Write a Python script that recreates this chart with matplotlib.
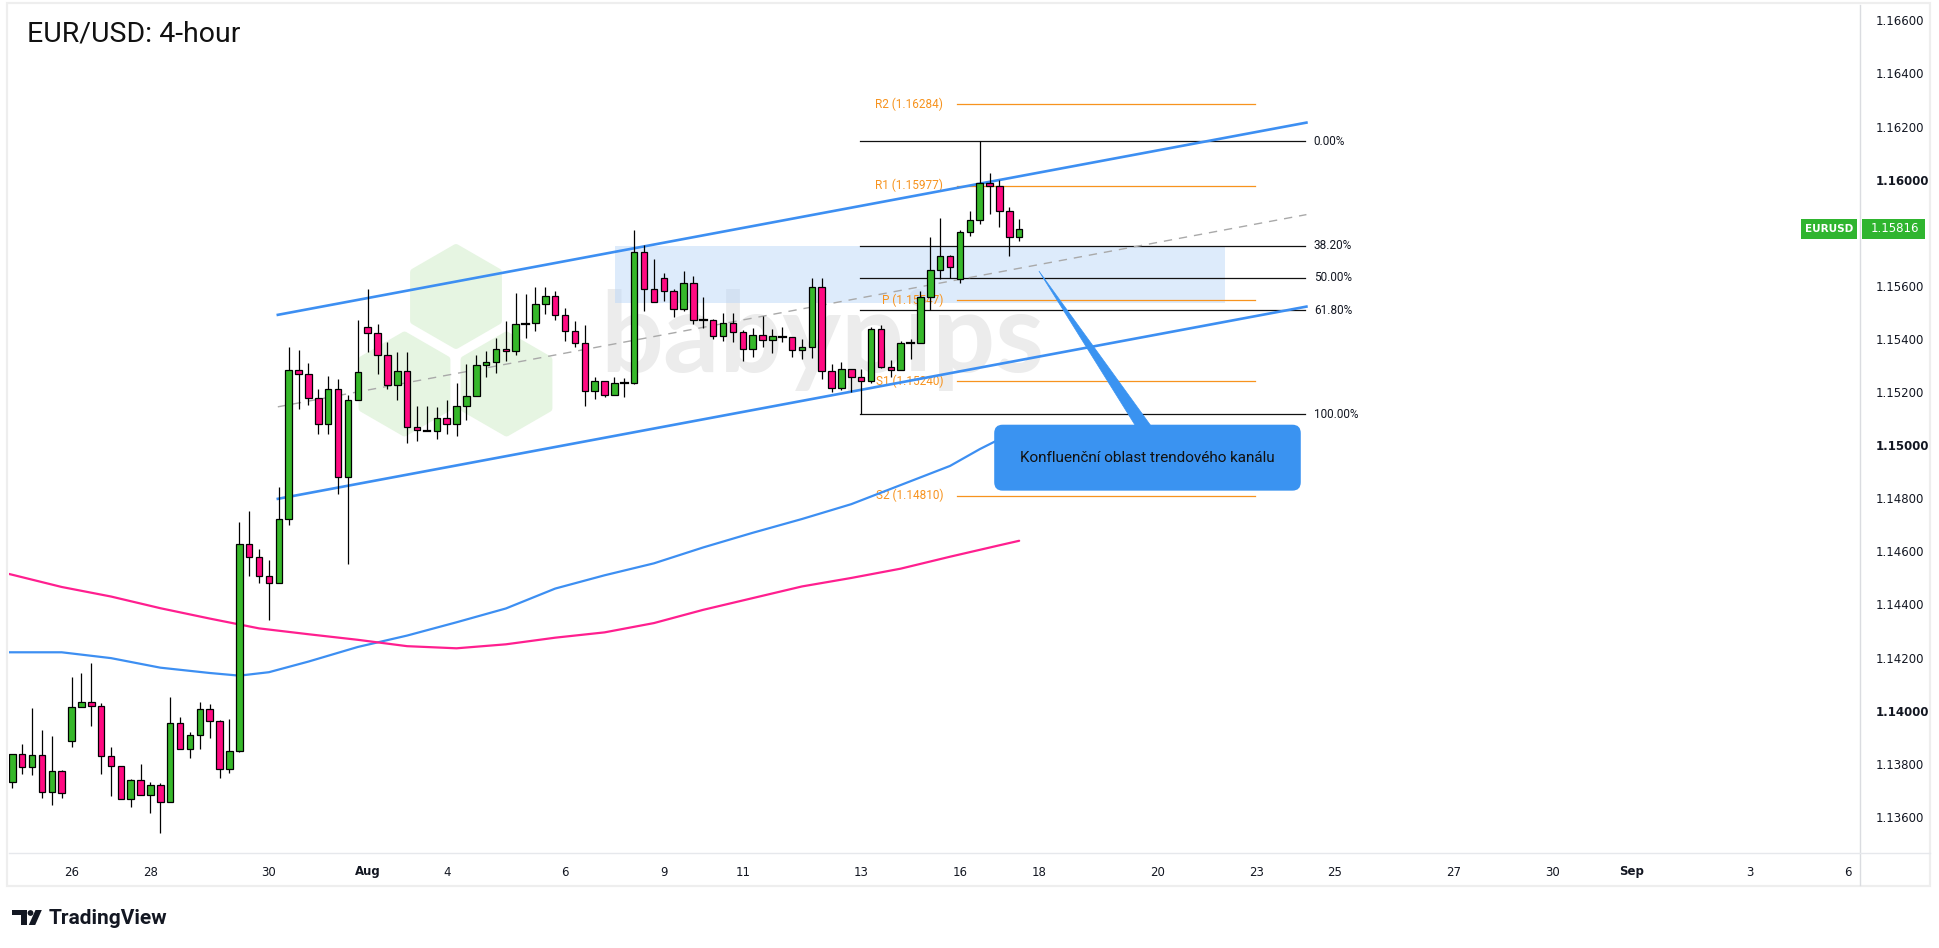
import numpy as np
import matplotlib
matplotlib.use("Agg")
import matplotlib.pyplot as plt
from matplotlib.patches import Rectangle, Polygon, RegularPolygon
from matplotlib.transforms import Affine2D, blended_transform_factory

# ---------------- data ----------------
opens = [1.13731, 1.13836, 1.13787, 1.13832, 1.13693, 1.13772, 1.13885, 1.14013, 1.14032, 1.14017,
         1.13829, 1.13791, 1.13667, 1.13738, 1.13682, 1.13719, 1.13655, 1.13953, 1.13857, 1.13908,
         1.14006, 1.13960, 1.13780, 1.13847, 1.14627, 1.14578, 1.14506, 1.14480, 1.14721, 1.15283,
         1.15267, 1.15177, 1.15079, 1.15212, 1.14879, 1.15170, 1.15444, 1.15421, 1.15339, 1.15226,
         1.15279, 1.15068, 1.15055, 1.15053, 1.15102, 1.15079, 1.15147, 1.15185, 1.15301, 1.15313,
         1.15362, 1.15354, 1.15458, 1.15459, 1.15531, 1.15561, 1.15490, 1.15429, 1.15384, 1.15203,
         1.15241, 1.15188, 1.15233, 1.15233, 1.15727, 1.15588, 1.15629, 1.15580, 1.15512, 1.15610,
         1.15471, 1.15471, 1.15411, 1.15459, 1.15426, 1.15362, 1.15414, 1.15395, 1.15409, 1.15407,
         1.15358, 1.15369, 1.15595, 1.15279, 1.15215, 1.15286, 1.15256, 1.15241, 1.15437, 1.15293,
         1.15282, 1.15386, 1.15386, 1.15557, 1.15659, 1.15711, 1.15625, 1.15802, 1.15847, 1.15986,
         1.15975, 1.15881, 1.15783]
highs = [1.13836, 1.13875, 1.14009, 1.13928, 1.13905, 1.13777, 1.14127, 1.14142, 1.14180, 1.14028,
         1.13862, 1.13791, 1.13743, 1.13800, 1.13731, 1.13727, 1.14051, 1.13975, 1.13919, 1.14032,
         1.14024, 1.13964, 1.13968, 1.14710, 1.14752, 1.14608, 1.14568, 1.14843, 1.15370, 1.15359,
         1.15310, 1.15212, 1.15261, 1.15249, 1.15189, 1.15472, 1.15588, 1.15457, 1.15388, 1.15350,
         1.15350, 1.15147, 1.15147, 1.15143, 1.15169, 1.15233, 1.15305, 1.15339, 1.15354, 1.15403,
         1.15467, 1.15572, 1.15569, 1.15595, 1.15595, 1.15580, 1.15516, 1.15467, 1.15452, 1.15256,
         1.15241, 1.15256, 1.15252, 1.15811, 1.15753, 1.15700, 1.15648, 1.15588, 1.15655, 1.15636,
         1.15557, 1.15475, 1.15497, 1.15497, 1.15433, 1.15441, 1.15486, 1.15437, 1.15444, 1.15407,
         1.15399, 1.15629, 1.15629, 1.15305, 1.15313, 1.15286, 1.15286, 1.15444, 1.15452, 1.15320,
         1.15391, 1.15399, 1.15580, 1.15783, 1.15855, 1.15715, 1.15809, 1.15881, 1.16145, 1.16024,
         1.15998, 1.15896, 1.15851]
lows = [1.13710, 1.13763, 1.13759, 1.13673, 1.13646, 1.13673, 1.13865, 1.14013, 1.13944, 1.13763,
        1.13680, 1.13667, 1.13639, 1.13682, 1.13616, 1.13540, 1.13655, 1.13854, 1.13820, 1.13854,
        1.13899, 1.13746, 1.13765, 1.13843, 1.14509, 1.14480, 1.14343, 1.14480, 1.14698, 1.15138,
        1.15153, 1.15044, 1.15044, 1.14815, 1.14554, 1.15170, 1.15352, 1.15270, 1.15211, 1.15169,
        1.15007, 1.15015, 1.15055, 1.15023, 1.15041, 1.15034, 1.15094, 1.15185, 1.15256, 1.15271,
        1.15316, 1.15339, 1.15403, 1.15429, 1.15493, 1.15471, 1.15392, 1.15369, 1.15147, 1.15173,
        1.15181, 1.15188, 1.15181, 1.15230, 1.15505, 1.15539, 1.15542, 1.15482, 1.15505, 1.15456,
        1.15441, 1.15399, 1.15392, 1.15388, 1.15316, 1.15331, 1.15369, 1.15346, 1.15388, 1.15331,
        1.15324, 1.15328, 1.15249, 1.15200, 1.15207, 1.15199, 1.15116, 1.15233, 1.15290, 1.15256,
        1.15282, 1.15324, 1.15384, 1.15508, 1.15625, 1.15629, 1.15610, 1.15787, 1.15832, 1.15870,
        1.15821, 1.15711, 1.15768]
closes = [1.13836, 1.13787, 1.13832, 1.13693, 1.13772, 1.13689, 1.14013, 1.14032, 1.14017, 1.13829,
          1.13791, 1.13667, 1.13738, 1.13682, 1.13719, 1.13655, 1.13953, 1.13857, 1.13908, 1.14006,
          1.13960, 1.13780, 1.13847, 1.14627, 1.14578, 1.14506, 1.14480, 1.14721, 1.15283, 1.15267,
          1.15177, 1.15079, 1.15212, 1.14879, 1.15170, 1.15275, 1.15421, 1.15339, 1.15226, 1.15279,
          1.15068, 1.15056, 1.15057, 1.15102, 1.15079, 1.15147, 1.15185, 1.15301, 1.15313, 1.15362,
          1.15354, 1.15456, 1.15458, 1.15531, 1.15561, 1.15490, 1.15429, 1.15384, 1.15203, 1.15241,
          1.15188, 1.15233, 1.15233, 1.15727, 1.15588, 1.15539, 1.15580, 1.15512, 1.15610, 1.15471,
          1.15471, 1.15411, 1.15459, 1.15426, 1.15362, 1.15414, 1.15395, 1.15411, 1.15409, 1.15358,
          1.15369, 1.15595, 1.15279, 1.15215, 1.15286, 1.15256, 1.15241, 1.15437, 1.15293, 1.15282,
          1.15384, 1.15386, 1.15557, 1.15659, 1.15711, 1.15670, 1.15802, 1.15847, 1.15986, 1.15975,
          1.15881, 1.15783, 1.15816]

# moving averages (bar index, value)
ma_fast_bars = [-1, 0, 5, 10, 15, 20, 23, 26, 30, 35, 40, 45, 50, 55, 60, 65, 70, 75, 80, 85, 90, 95, 98, 102]
ma_fast_vals = [1.14220, 1.14220, 1.14220, 1.14198, 1.14162, 1.14142, 1.14132, 1.14145, 1.14185, 1.14240,
                1.14283, 1.14333, 1.14385, 1.14460, 1.14510, 1.14555, 1.14615, 1.14670, 1.14722, 1.14778,
                1.14850, 1.14922, 1.14985, 1.15060]
ma_slow_bars = [-1, 0, 5, 10, 15, 20, 25, 30, 35, 40, 45, 50, 55, 60, 65, 70, 75, 80, 85, 90, 95, 100, 102]
ma_slow_vals = [1.14521, 1.14512, 1.14466, 1.14430, 1.14386, 1.14347, 1.14310, 1.14288, 1.14267, 1.14243,
                1.14235, 1.14250, 1.14275, 1.14295, 1.14330, 1.14380, 1.14424, 1.14468, 1.14500, 1.14535,
                1.14580, 1.14623, 1.14640]

# trend channel
channel_bars = [26.9, 131.1]
channel_upper = [1.15491, 1.16215]
channel_lower = [1.14798, 1.15522]

# fibonacci retracement
fib_high, fib_low = 1.16145, 1.15116
fib_start, fib_end = 85.9, 131.0
fib_levels = [0.0, 0.382, 0.5, 0.618, 1.0]
fib_labels = ["0.00%", "38.20%", "50.00%", "61.80%", "100.00%"]

# pivot points
pivot_names = ["R2", "R1", "P", "S1", "S2"]
pivot_values = [1.16284, 1.15977, 1.15547, 1.15240, 1.14810]
pivot_start, pivot_end = 95.7, 125.9

# highlighted zone
zone_bars = [61.1, 122.9]
zone_prices = [1.15537, 1.15752]

# callout
callout_text = "Konfluenční oblast trendového kanálu"
callout_pos = (115.0, 1.14953)
callout_tip = (104.0, 1.15656)
callout_base = [(114.0, 1.15060), (115.6, 1.15060)]

# axes
tick_bars = [6, 14, 26, 36, 44, 56, 66, 74, 86, 96, 104, 116, 126, 134, 146, 156, 164, 176, 186]
tick_labels = ["26", "28", "30", "Aug", "4", "6", "9", "11", "13", "16", "18", "20", "23", "25",
               "27", "30", "Sep", "3", "6"]
price_ticks = [1.136, 1.138, 1.140, 1.142, 1.144, 1.146, 1.148, 1.150, 1.152, 1.154,
               1.156, 1.158, 1.160, 1.162, 1.164, 1.166]
x_range = (-0.334, 187.18)
y_range = (1.13464, 1.16658)

# ---------------- styles ----------------
GREEN = "#36b82a"
PINK = "#ff0a82"
BLUE = "#3d8ff2"
MA_PINK = "#ff1f8f"
ORANGE = "#f7931e"
TXT = "#131722"

W, H = 1940, 948
fig = plt.figure(figsize=(W / 100, H / 100), dpi=100)
fig.patch.set_facecolor("white")
pxT = Affine2D().scale(1.0 / W, -1.0 / H).translate(0, 1) + fig.transFigure

ax_left, ax_right, ax_top, ax_bottom = 9, 1860, 5, 853
ax = fig.add_axes([ax_left / W, 1 - ax_bottom / H, (ax_right - ax_left) / W, (ax_bottom - ax_top) / H])
ax.set_xlim(*x_range)
ax.set_ylim(*y_range)
ax.set_facecolor("white")
for s in ax.spines.values():
    s.set_visible(False)

# ---- watermark (babypips) ----
hex_centers = [(456, 296.5), (404.5, 384), (506.5, 384)]
for cx, cy in hex_centers:
    ax.add_patch(RegularPolygon((cx, cy), 6, radius=49, orientation=0, transform=pxT,
                                facecolor="#e6f5e2", edgecolor="#e6f5e2", lw=5, joinstyle="round",
                                zorder=0.5, clip_on=False))
ax.text(600, 372, "babypips", transform=pxT, fontsize=80, fontfamily="Lato", fontweight="bold",
        color="#ececec", ha="left", va="baseline", zorder=0.6)

# ---- zone ----
ax.add_patch(Rectangle((zone_bars[0], zone_prices[0]), zone_bars[1] - zone_bars[0],
                       zone_prices[1] - zone_prices[0], facecolor="#bcd8f8", alpha=0.5,
                       edgecolor="none", zorder=0.8))

# ---- moving averages ----
ax.plot(ma_fast_bars, ma_fast_vals, color=BLUE, lw=1.6, zorder=2, solid_capstyle="round")
ax.plot(ma_slow_bars, ma_slow_vals, color=MA_PINK, lw=1.6, zorder=2, solid_capstyle="round")

# ---- pivots ----
for name, val in zip(pivot_names, pivot_values):
    ax.plot([pivot_start, pivot_end], [val, val], color=ORANGE, lw=0.9, zorder=1.5)
    ax.text(pivot_start - 1.4, val, f"{name} ({val:.5f})", color=ORANGE, fontsize=8.5,
            fontfamily="Roboto", ha="right", va="center", zorder=1.6)

# ---- fibonacci ----
for lv, lab in zip(fib_levels, fib_labels):
    p = fib_high - lv * (fib_high - fib_low)
    ax.plot([fib_start, fib_end], [p, p], color="#111111", lw=0.9, zorder=1.7)
    ax.text(fib_end + 0.85, p, lab, color=TXT, fontsize=8.5, fontfamily="Roboto",
            ha="left", va="center", zorder=1.7)

# ---- channel ----
ax.plot(channel_bars, channel_upper, color=BLUE, lw=1.9, zorder=3)
ax.plot(channel_bars, channel_lower, color=BLUE, lw=1.9, zorder=3)
mid = [(u + l) / 2 for u, l in zip(channel_upper, channel_lower)]
ax.plot(channel_bars, mid, color="#a9a9a9", lw=1.0, ls=(0, (6, 5)), zorder=2.5)

# ---- candles ----
bw = 0.66
for i, (o, h, l, c) in enumerate(zip(opens, highs, lows, closes)):
    ax.plot([i, i], [l, h], color="black", lw=0.9, zorder=4, solid_capstyle="butt")
    lo, hi = min(o, c), max(o, c)
    if hi - lo < 0.00003:
        ax.plot([i - bw / 2, i + bw / 2], [o, o], color="black", lw=1.6, zorder=4.2)
    else:
        col = GREEN if c > o else PINK
        ax.add_patch(Rectangle((i - bw / 2, lo), bw, hi - lo, facecolor=col, edgecolor="black",
                               lw=0.9, zorder=4.1))

# ---- callout ----
ax.add_patch(Polygon([callout_tip, callout_base[0], callout_base[1]], closed=True,
                     facecolor="#3a93f1", edgecolor="#3a93f1", lw=0.5, zorder=5))
ax.text(callout_pos[0], callout_pos[1], callout_text, fontsize=11, fontfamily="Roboto",
        color="#111111", ha="center", va="center", zorder=5.5,
        bbox=dict(boxstyle="round,pad=1.7,rounding_size=0.55", facecolor="#3a93f1",
                  edgecolor="none"))

# ---- axes ticks ----
ax.yaxis.tick_right()
ax.set_yticks(price_ticks)
ax.set_yticklabels([f"{v:.5f}" for v in price_ticks])
ax.tick_params(axis="y", length=0, pad=11, labelsize=8.5, labelcolor=TXT)
for lbl, v in zip(ax.get_yticklabels(), price_ticks):
    if abs(round(v * 100) - v * 100) < 1e-6:
        lbl.set_fontweight("bold")
ax.set_xticks(tick_bars)
ax.set_xticklabels(tick_labels)
ax.tick_params(axis="x", length=0, pad=9, labelsize=8.5, labelcolor=TXT)
for lbl, t in zip(ax.get_xticklabels(), tick_labels):
    if t.isalpha():
        lbl.set_fontweight("bold")

# ---- last price labels ----
last = closes[-1]
bt = blended_transform_factory(ax.transAxes, ax.transData)
hpx = 20 / (ax_bottom - ax_top) * (y_range[1] - y_range[0])
axw = ax_right - ax_left
ax.add_patch(Rectangle(((1801 - ax_left) / axw, last - hpx / 2), 56 / axw, hpx, transform=bt,
                       facecolor="#2fb52f", edgecolor="none", clip_on=False, zorder=6))
ax.add_patch(Rectangle(((1862 - ax_left) / axw, last - hpx / 2), 63 / axw, hpx, transform=bt,
                       facecolor="#2fb52f", edgecolor="none", clip_on=False, zorder=6))
ax.text((1829 - ax_left) / axw, last, "EURUSD", transform=bt, color="white", fontsize=7.5,
        fontweight="bold", ha="center", va="center", zorder=7, clip_on=False)
ax.text((1871 - ax_left) / axw, last, f"{last:.5f}", transform=bt, color="white", fontsize=8.5,
        ha="left", va="center", zorder=7, clip_on=False)

# ---- frame lines ----
fig.add_artist(plt.Line2D([ax_right, ax_right], [ax_top, 885], transform=pxT, color="#dadce0", lw=1))
fig.add_artist(plt.Line2D([ax_left, 1930], [ax_bottom, ax_bottom], transform=pxT, color="#e6e8ec", lw=1))
fig.add_artist(Rectangle((7, 3), 1923, 883, transform=pxT, facecolor="none", edgecolor="#eeeeee", lw=1.6))

# ---- title ----
fig.text(27 / W, 1 - 34 / H, "EUR/USD: 4-hour", fontsize=20.5, fontfamily="Roboto", color="#111111",
         ha="left", va="center")

# ---- TradingView logo ----
logo_col = TXT
fig.add_artist(Polygon([(12.3, 910), (26.7, 910), (26.7, 925), (20.8, 925), (20.8, 915.5), (12.3, 915.5)],
                       closed=True, transform=pxT, facecolor=logo_col, edgecolor="none"))
fig.add_artist(plt.Circle((30.5, 913), 2.9, transform=pxT, facecolor=logo_col, edgecolor="none"))
fig.add_artist(Polygon([(35.5, 910), (41.8, 910), (35.2, 925), (28.8, 925)], closed=True, transform=pxT,
                       facecolor=logo_col, edgecolor="none"))
fig.text(49 / W, 1 - 918 / H, "TradingView", fontsize=15, fontfamily="Roboto", fontweight="bold",
         color=logo_col, ha="left", va="center")

fig.savefig("out.png", dpi=100, facecolor="white")
